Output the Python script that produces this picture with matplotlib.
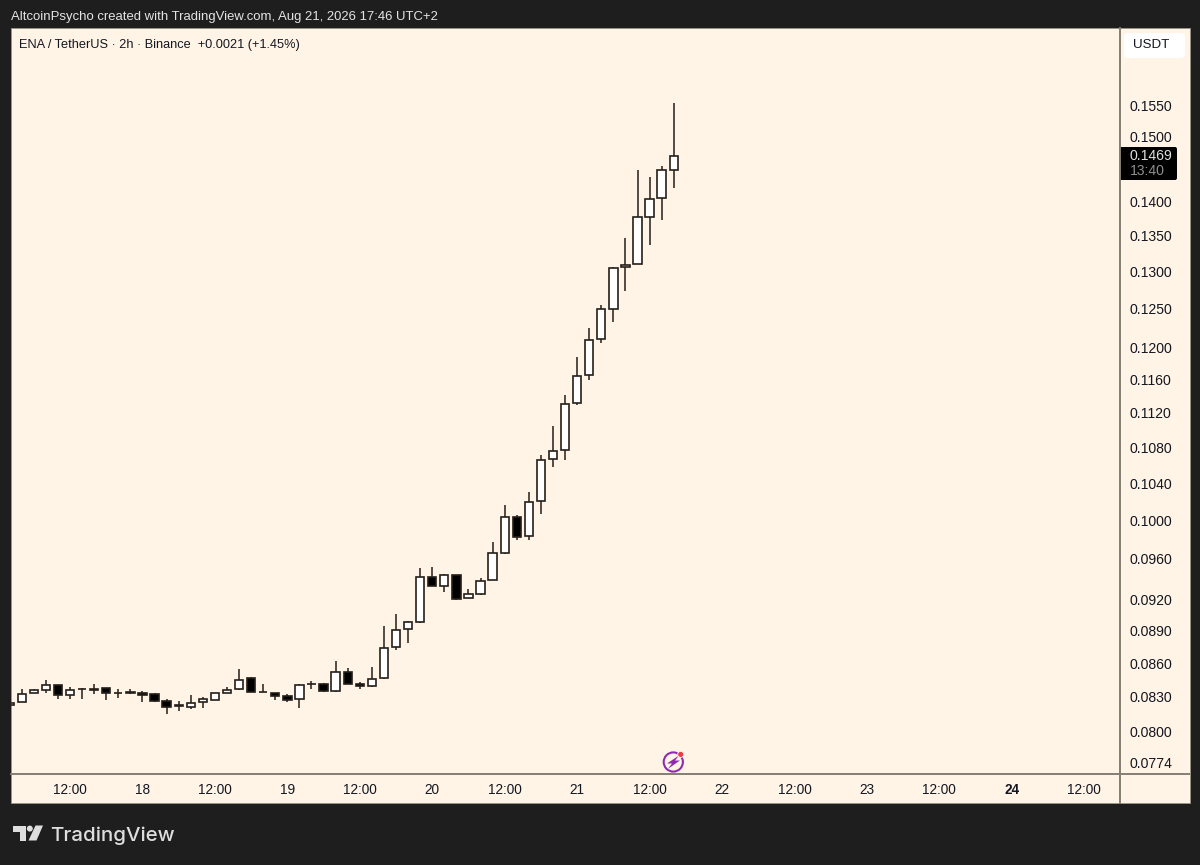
import matplotlib
matplotlib.use("Agg")
import matplotlib.pyplot as plt
from matplotlib.patches import Rectangle, Polygon, Circle, FancyBboxPatch

plt.rcParams['font.family'] = ['Liberation Sans', 'DejaVu Sans']

# 2h bars, index 0 is Aug 17 12:00
bar_index = list(range(-5, 51))
opens = [.08224, .08251, .08333, .08357, .08404, .08316, .08366, .08360, .08381, .08330,
         .08336, .08333, .08322, .08263, .08218, .08210, .08251, .08274, .08333, .08366,
         .08463, .08339, .08330, .08304, .08277, .08410, .08413, .08354, .08520, .08413,
         .08392, .08466, .08750, .08911, .08984, .09419, .09327, .09442, .09215, .09254,
         .09392, .09660, .10031, .09835, .10202, .10664, .10764, .11321, .11653, .12112,
         .12502, .13061, .13106, .13776, .14055, .14478]
highs = [.08248, .08372, .08372, .08449, .08404, .08390, .08375, .08410, .08381, .08369,
         .08372, .08354, .08330, .08277, .08263, .08313, .08295, .08336, .08390, .08544,
         .08472, .08413, .08336, .08325, .08413, .08437, .08419, .08623, .08553, .08431,
         .08569, .08944, .09055, .08988, .09506, .09516, .09449, .09442, .09302, .09412,
         .09770, .10159, .10052, .10300, .10710, .11043, .11414, .11881, .12246, .12555,
         .13069, .13470, .14473, .14371, .14530, .15538]
lows = [.08224, .08251, .08330, .08336, .08283, .08277, .08277, .08322, .08274, .08286,
        .08325, .08254, .08257, .08154, .08177, .08189, .08204, .08271, .08330, .08363,
        .08339, .08339, .08271, .08254, .08204, .08366, .08345, .08345, .08410, .08369,
        .08387, .08454, .08720, .08780, .08969, .09327, .09267, .09189, .09212, .09239,
        .09386, .09653, .09796, .09796, .10066, .10575, .10656, .11294, .11591, .12053,
        .12332, .12738, .13106, .13375, .13728, .14205]
closes = [.08248, .08328, .08363, .08404, .08316, .08360, .08372, .08366, .08330, .08336,
          .08342, .08316, .08263, .08210, .08224, .08248, .08280, .08330, .08363, .08446,
          .08342, .08345, .08310, .08274, .08404, .08416, .08354, .08520, .08413, .08392,
          .08460, .08736, .08904, .08979, .09419, .09327, .09439, .09202, .09249, .09376,
          .09657, .10031, .09824, .10198, .10659, .10759, .11306, .11648, .12099, .12494,
          .13051, .13088, .13772, .14036, .14468, .14690]

price_ticks = [.0774, .08, .083, .086, .089, .092, .096, .1, .104, .108, .112, .116,
               .12, .125, .13, .135, .14, .15, .155]
time_ticks = list(range(0, 85, 6))
time_labels = ['12:00', '18', '12:00', '19', '12:00', '20', '12:00', '21', '12:00', '22',
               '12:00', '23', '12:00', '24', '12:00']

DARK = '#1e1e1e'
CREAM = '#fff4e5'
LINE = '#827e72'
INK = '#131722'

W, H = 1200, 865
fig = plt.figure(figsize=(W / 100, H / 100), dpi=100, facecolor=DARK)

# helper layer in pixels for the chrome around the chart
bg = fig.add_axes([0, 0, 1, 1], zorder=0)
bg.set_xlim(0, W)
bg.set_ylim(H, 0)
bg.axis('off')
bg.add_patch(Rectangle((11, 28), 1178.5, 775, fc=CREAM, ec='#9a968b', lw=0.6))

ax = fig.add_axes([11 / W, 1 - 774 / H, 1109 / W, 746 / H], zorder=1, facecolor='none')
ax.set_yscale('log')
ax.set_xlim(-4.886, 86.96)
ax.set_ylim(.07650, .16813)

for x, o, h, l, c in zip(bar_index, opens, highs, lows, closes):
    top, bot = max(o, c), min(o, c)
    ax.vlines(x, top, h, color='#241f1a', lw=1.1, zorder=2)
    ax.vlines(x, l, bot, color='#241f1a', lw=1.1, zorder=2)
    ax.bar(x, top - bot, bottom=bot, width=0.69, facecolor='white' if c >= o else 'black',
           edgecolor='#241f1a', linewidth=1.2, zorder=3)

for side in ax.spines:
    ax.spines[side].set_visible(False)
ax.yaxis.tick_right()
ax.minorticks_off()
ax.set_yticks(price_ticks)
ax.set_yticklabels([f'{p:.4f}' for p in price_ticks], fontsize=10.1, color=INK)
ax.tick_params(axis='y', which='both', length=0, pad=6.6)
ax.set_xticks(time_ticks)
ax.set_xticklabels(time_labels, fontsize=9.8, color=INK)
ax.get_xticklabels()[13].set_fontweight('bold')
ax.tick_params(axis='x', length=0, pad=6.6)

top = fig.add_axes([0, 0, 1, 1], zorder=2, facecolor='none')
top.set_xlim(0, W)
top.set_ylim(H, 0)
top.axis('off')

top.plot([1120, 1120], [28, 803], color=LINE, lw=1.4)
top.plot([11, 1189], [774, 774], color=LINE, lw=1.4)

top.text(11, 17, 'AltcoinPsycho created with TradingView.com, Aug 21, 2026 17:46 UTC+2',
         fontsize=9.44, color='#e4e4e4', va='center')
top.text(19, 45, 'ENA / TetherUS · 2h · Binance  +0.0021 (+1.45%)',
         fontsize=9.2, color=INK, va='center')

top.add_patch(FancyBboxPatch((1126, 35), 57, 21, boxstyle='round,pad=2,rounding_size=4',
                             fc='white', ec='none'))
top.text(1133.5, 45, 'USDT', fontsize=9.6, color=INK, va='center')

top.add_patch(FancyBboxPatch((1122, 149), 53, 29, boxstyle='round,pad=2,rounding_size=2',
                             fc='black', ec='none'))
top.add_patch(Rectangle((1120, 147), 6, 33, fc='black', ec='none'))
top.text(1129.5, 156, '0.1469', fontsize=10.1, color='#e0e0e0', va='center')
top.text(1130, 171, '13:40', fontsize=10.1, color='#8f8f8f', va='center')

# lightning badge
top.add_patch(Circle((673.3, 762), 9.6, fc='none', ec='#8e2bb0', lw=1.5))
top.add_patch(Polygon([(679, 755.5), (667, 763.5), (672, 763.5), (668, 768.8),
                       (680, 760.5), (675, 760.5)], fc='#8e2bb0', ec='none'))
top.add_patch(Circle((680.7, 754.4), 3, fc='#f23645', ec=CREAM, lw=0.6))

# TradingView logo
logo = '#dedede'
top.add_patch(Polygon([(12.5, 825.5), (25.5, 825.5), (25.5, 840.5), (19.5, 840.5),
                       (19.5, 831.5), (12.5, 831.5)], fc=logo, ec='none'))
top.add_patch(Circle((29.8, 828.6), 3, fc=logo, ec='none'))
top.add_patch(Polygon([(35.5, 825.5), (43, 825.5), (36.5, 840.5), (28.5, 840.5)], fc=logo, ec='none'))
top.text(50.5, 836, 'TradingView', family=['Inter', 'DejaVu Sans'], fontsize=14.75,
         fontweight='medium', color=logo, va='center')

fig.savefig('out.png', dpi=100, facecolor=DARK)
